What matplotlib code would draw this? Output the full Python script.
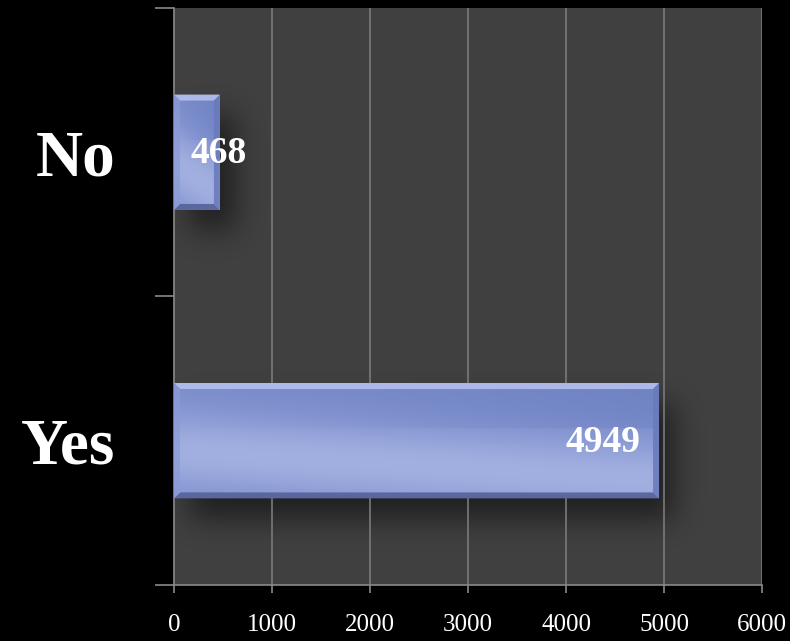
import numpy as np
import matplotlib as mpl
mpl.use("Agg")
import matplotlib.pyplot as plt
from matplotlib.patches import Polygon
from matplotlib.colors import LinearSegmentedColormap

categories = ["Yes", "No"]
values = [4949, 468]
x_ticks = [0, 1000, 2000, 3000, 4000, 5000, 6000]

plt.rcParams["font.family"] = ["Liberation Serif", "DejaVu Serif"]

fig = plt.figure(figsize=(7.9, 6.41), dpi=100, facecolor="black")
ax = fig.add_axes([0.2203, 0.0874, 0.7443, 0.9001])
ax.set_facecolor("#404040")

bar_h = 0.4
ypos = np.arange(len(categories))
ax.set_xlim(0, 6000)
ax.set_ylim(-0.5, len(categories) - 0.5)

for x in x_ticks[1:]:
    ax.axvline(x, color="#7a7a7a", lw=1.2, zorder=1)

grad = LinearSegmentedColormap.from_list("bb", ["#6478bb", "#8394d0", "#a5b2e2"])

fig.canvas.draw()
inv = ax.transData.inverted()
p0 = inv.transform((0, 0))
p1 = inv.transform((1, 1))
dx_px = p1[0] - p0[0]
dy_px = p1[1] - p0[1]

bars = ax.barh(ypos, values, height=bar_h, color="none", zorder=3)

# soft blurred shadow, built in axes pixel space
bb = ax.get_window_extent()
W, H = int(round(bb.width)), int(round(bb.height))
mask = np.zeros((H, W))
for b in bars:
    (px0, py0), (px1, py1) = ax.transData.transform(
        [(b.get_x(), b.get_y()), (b.get_x() + b.get_width(), b.get_y() + b.get_height())])
    sx, sy = 16, -20
    c0 = int(max(px0 - bb.x0 + sx, 0)); c1 = int(min(px1 - bb.x0 + sx, W))
    r0 = int(max(py0 - bb.y0 + sy, 0)); r1 = int(min(py1 - bb.y0 + sy, H))
    mask[r0:r1, c0:c1] = 1.0
k = np.exp(-0.5 * (np.arange(-40, 41) / 14.0) ** 2)
k /= k.sum()
mask = np.apply_along_axis(lambda r: np.convolve(r, k, mode="same"), 1, mask)
mask = np.apply_along_axis(lambda c: np.convolve(c, k, mode="same"), 0, mask)
shadow = np.zeros((H, W, 4))
shadow[..., 3] = mask * 0.5
ax.imshow(shadow, extent=(0, 6000, -0.5, len(categories) - 0.5), origin="lower",
          aspect="auto", zorder=0.5, interpolation="bilinear")

for b, v in zip(bars, values):
    x0, y0 = b.get_x(), b.get_y()
    w, h = b.get_width(), b.get_height()
    # gradient fill: darker top, light band lower-left
    yy = np.linspace(0, 1, 100).reshape(-1, 1)
    xx = np.linspace(0, 1, 60).reshape(1, -1)
    g = 0.35 + 0.6 * np.exp(-((yy - 0.4 + 0.25 * xx) / 0.35) ** 2) - 0.15 * xx * (yy > 0.6)
    im = ax.imshow(g, cmap=grad, extent=(x0, x0 + w, y0, y0 + h), origin="lower",
                   aspect="auto", zorder=3, vmin=0, vmax=1, interpolation="bilinear")
    im.set_clip_path(b)
    # bevel edges (inward)
    bw = 6
    ex, ey = bw * dx_px, bw * dy_px
    top = [(x0, y0 + h), (x0 + w, y0 + h), (x0 + w - ex, y0 + h - ey), (x0 + ex, y0 + h - ey)]
    bot = [(x0, y0), (x0 + w, y0), (x0 + w - ex, y0 + ey), (x0 + ex, y0 + ey)]
    rgt = [(x0 + w, y0), (x0 + w, y0 + h), (x0 + w - ex, y0 + h - ey), (x0 + w - ex, y0 + ey)]
    lft = [(x0, y0), (x0, y0 + h), (x0 + ex, y0 + h - ey), (x0 + ex, y0 + ey)]
    ax.add_patch(Polygon(top, closed=True, color="#b3bfec", alpha=0.9, lw=0, zorder=4))
    ax.add_patch(Polygon(bot, closed=True, color="#56619a", alpha=0.9, lw=0, zorder=4))
    ax.add_patch(Polygon(rgt, closed=True, color="#6a7bbd", alpha=0.9, lw=0, zorder=4))
    ax.add_patch(Polygon(lft, closed=True, color="#8a9bd6", alpha=0.7, lw=0, zorder=4))

for y, v in zip(ypos, values):
    if v > 1500:
        ax.annotate(str(v), (v, y), xytext=(-13, -1), textcoords="offset points",
                    ha="right", va="center", color="white", fontsize=27,
                    fontweight="bold", zorder=6)
    else:
        ax.annotate(str(v), (0, y), xytext=(12, -1), textcoords="offset points",
                    ha="left", va="center", color="white", fontsize=27,
                    fontweight="bold", zorder=6)

ax.set_xticks(x_ticks)
ax.set_xticklabels([str(t) for t in x_ticks])
ax.set_yticks(ypos)
ax.set_yticklabels(categories)
ax.set_yticks(np.arange(-0.5, len(categories)), minor=True)

ax.tick_params(axis="x", colors="#8a8a8a", length=6, width=1.2, direction="out",
               labelcolor="white", labelsize=18, pad=15)
ax.tick_params(axis="y", which="major", length=0, pad=42, labelcolor="white",
               labelsize=47)
ax.tick_params(axis="y", which="minor", length=14, width=1.2, color="#8a8a8a")
for lab in ax.get_yticklabels():
    lab.set_fontweight("bold")

for s in ["top", "right"]:
    ax.spines[s].set_visible(False)
for s in ["left", "bottom"]:
    ax.spines[s].set_color("#8a8a8a")
    ax.spines[s].set_linewidth(1.2)

fig.savefig("out.png", dpi=100, facecolor="black")
